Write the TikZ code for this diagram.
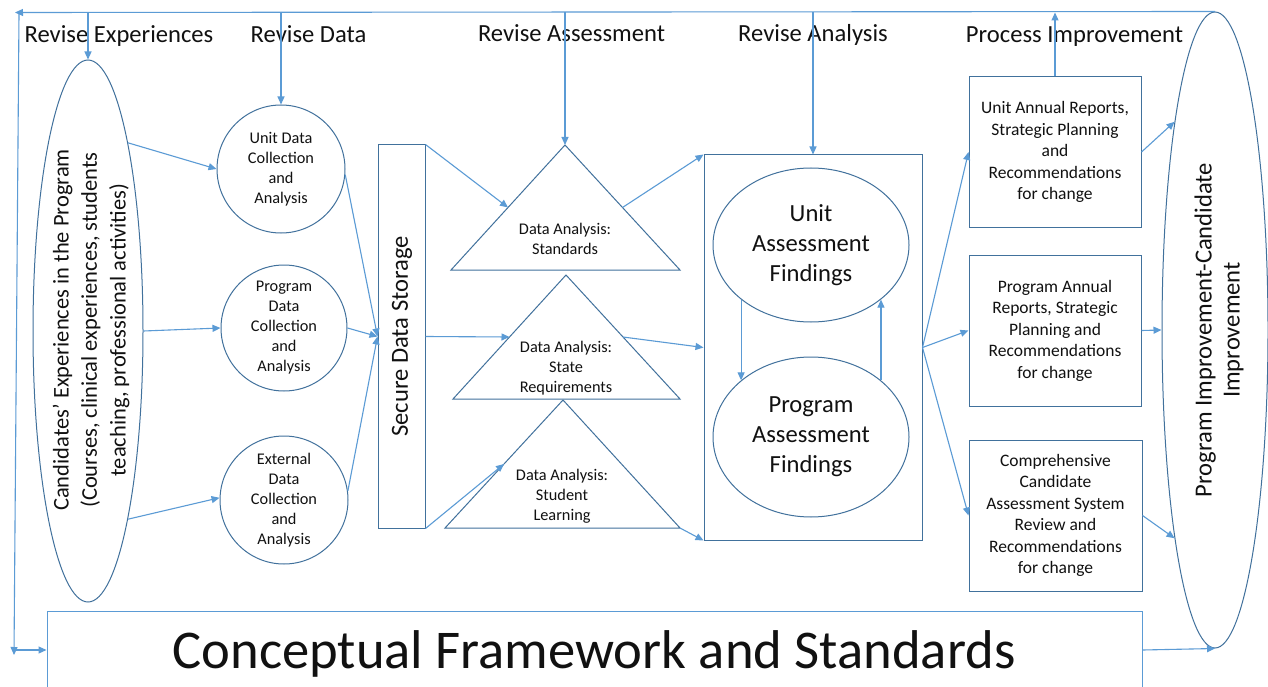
\documentclass[tikz,border=0pt]{standalone}
\usepackage{fontspec}
\setmainfont{Carlito}
\usetikzlibrary{arrows.meta,shapes.geometric,calc}
\definecolor{lineblue}{HTML}{5B9BD5}
\definecolor{shapeblue}{HTML}{41719C}
\definecolor{txtcol}{HTML}{111111}
\tikzset{
  shp/.style={draw=shapeblue, line width=1pt, inner sep=0pt},
  arr/.style={draw=lineblue, line width=1.1pt, -{Triangle[length=8pt,width=7pt]}},
  txt/.style={text=txtcol, align=center, inner sep=0pt},
  small/.style={txt, font=\fontsize{16.3}{20}\selectfont},
  boxtxt/.style={txt, font=\fontsize{17.5}{21.5}\selectfont},
  big/.style={txt, font=\fontsize{24.6}{30}\selectfont},
  head/.style={txt, anchor=base, font=\fontsize{24.6}{30}\selectfont}
}
\begin{document}
\begin{tikzpicture}[x={(1pt,0)}, y={(0,-1pt)}]
\useasboundingbox (0,0) rectangle (1268,687);
\clip (0,0) rectangle (1268,687);
\fill[white] (0,0) rectangle (1268,687);

% column headings
\node[head] (hexp) at (119,43) {Revise Experiences};
\node[head] (hdata) at (308.5,43) {Revise Data};
\node[head] (hass) at (571.5,42) {Revise Assessment};
\node[head] (hana) at (813,42) {Revise Analysis};
\node[head] (hproc) at (1074.5,43) {Process Improvement};

% candidates' experiences
\node[shp, ellipse, minimum width=110pt, minimum height=542pt] (cand) at (88,331) {};
\node[txt, rotate=90, font=\fontsize{22.5}{28.5}\selectfont] (candtxt) at (91,330)
  {Candidates’ Experiences in the Program\\(Courses, clinical experiences, students\\teaching, professional activities)};

% data collection circles
\node[shp, circle, minimum size=128pt, small] (unit) at (281,169) {Unit Data\\Collection\\and\\Analysis};
\node[shp, circle, minimum size=126pt, small] (prog) at (284,328) {Program\\Data\\Collection\\and\\Analysis};
\node[shp, circle, minimum size=128pt, small] (ext) at (284,500) {External\\Data\\Collection\\and\\Analysis};

% secure storage
\node[shp, minimum width=47pt, minimum height=383pt] (store) at (401.5,336.5) {};
\node[big, rotate=90] (storetxt) at (402,336.5) {Secure Data Storage};

% analysis triangles
\draw[shp] (565,145) coordinate (t1a) -- (680,270) coordinate (t1r) -- (451,270) coordinate (t1l) -- cycle;
\draw[shp] (566,275) coordinate (t2a) -- (680,399) coordinate (t2r) -- (453,399) coordinate (t2l) -- cycle;
\draw[shp] (563,400) coordinate (t3a) -- (680,528) coordinate (t3r) -- (445,528) coordinate (t3l) -- cycle;
\node[small] (t1txt) at (565,238.5) {Data Analysis:\\Standards};
\node[small] (t2txt) at (566,368) {Data Analysis:\\State\\Requirements};
\node[small] (t3txt) at (562,496) {Data Analysis:\\Student\\Learning};

% findings
\node[shp, minimum width=218pt, minimum height=385pt] (find) at (813,347.5) {};
\node[shp, ellipse, minimum width=196pt, minimum height=154pt, big] (unitF) at (811,245) {Unit\\Assessment\\Findings};
\node[shp, ellipse, minimum width=196pt, minimum height=160pt, big] (progF) at (811,437) {Program\\Assessment\\Findings};

% reports
\node[shp, minimum width=172pt, minimum height=150pt, boxtxt] (ubox) at (1055,152)
  {Unit Annual Reports,\\Strategic Planning\\and\\Recommendations\\for change};
\node[shp, minimum width=172pt, minimum height=151pt, boxtxt] (pbox) at (1055,330.5)
  {Program Annual\\Reports, Strategic\\Planning and\\Recommendations\\for change};
\node[shp, minimum width=173pt, minimum height=151pt, boxtxt] (cbox) at (1055.5,515.5)
  {Comprehensive\\Candidate\\Assessment System\\Review and\\Recommendations\\for change};

% improvement
\node[shp, ellipse, minimum width=106pt, minimum height=636pt] (impr) at (1215,330) {};
\node[big, rotate=90, font=\fontsize{24.6}{28}\selectfont] (imprtxt) at (1219,330)
  {Program Improvement-Candidate\\Improvement};

% conceptual framework
\node[draw=lineblue, line width=1pt, minimum width=1095pt, minimum height=78pt] (concept) at (594.5,650) {};
\node[txt, anchor=base, font=\fontsize{54.6}{60}\selectfont] (concepttxt) at (594,668)
  {Conceptual Framework and Standards};

% feedback loop
\coordinate (tl) at (15,12.5);
\coordinate (tl2) at (19,14);
\coordinate (bl) at (14,655);
\coordinate (bl2) at (14,650);
\draw[arr] (impr.north) -- (tl);
\draw[arr] (tl2) -- (bl);
\draw[arr] (bl2) -- (concept.west);
\draw[arr] (cand.north |- tl) -- (cand.north);
\draw[arr] (unit.north |- tl) -- (unit.north);
\draw[arr] (t1a |- tl) -- (t1a);
\draw[arr] (find.north |- tl) -- (find.north);
\draw[arr] (ubox.north) -- (ubox.north |- tl);

% experiences to data collection
\draw[arr] (cand.78) -- (unit.west);
\draw[arr] (cand.east) -- (prog.west);
\draw[arr] (cand.-78) -- (ext.178);

% data collection to storage
\draw[arr] (unit.-5) -- (store.west);
\draw[arr] (prog.east) -- (store.west);
\draw[arr] (ext.8) -- (store.west);

% storage to analyses
\draw[arr] (store.north east) -- ($(t1a)!0.5!(t1l)$);
\draw[arr] (store.east) -- ($(t2a)!0.5!(t2l)$);
\draw[arr] (store.south east) -- ($(t3a)!0.5!(t3l)$);

% analyses to findings
\draw[arr] ($(t1a)!0.5!(t1r)$) -- (find.north west);
\draw[arr] ($(t2a)!0.5!(t2r)$) -- (find.west);
\draw[arr] (t3r) -- (find.south west);
\draw[arr] (unitF.218) -- (unitF.218 |- progF.141);
\draw[arr] (progF.39) -- (progF.39 |- unitF.-38);

% findings to reports
\draw[arr] (find.east) -- (ubox.west);
\draw[arr] (find.east) -- (pbox.west);
\draw[arr] (find.east) -- (cbox.west);

% reports to improvement
\draw[arr] (ubox.east) -- (impr.101);
\draw[arr] (pbox.east) -- (impr.west);
\draw[arr] (cbox.east) -- (impr.-101);
\draw[arr] (concept.east) -- (impr.south);
\end{tikzpicture}
\end{document}
